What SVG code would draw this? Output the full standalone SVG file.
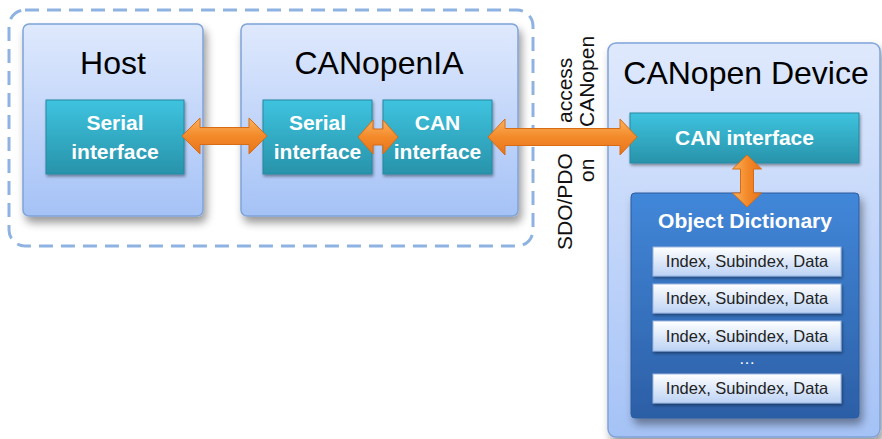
<svg xmlns="http://www.w3.org/2000/svg" width="882" height="439" viewBox="0 0 882 439">
<defs>
<linearGradient id="gBox" x1="0" y1="0" x2="0" y2="1"><stop offset="0" stop-color="#dfe9fd"/><stop offset="1" stop-color="#a5c2f6"/></linearGradient>
<linearGradient id="gTeal" x1="0" y1="0" x2="0" y2="1"><stop offset="0" stop-color="#3ec3df"/><stop offset="1" stop-color="#2893aa"/></linearGradient>
<linearGradient id="gOD" x1="0" y1="0" x2="0" y2="1"><stop offset="0" stop-color="#4287d9"/><stop offset="1" stop-color="#2c5fa6"/></linearGradient>
<linearGradient id="gRow" x1="0" y1="0" x2="0" y2="1"><stop offset="0" stop-color="#ffffff"/><stop offset="1" stop-color="#bcd2f4"/></linearGradient>
<linearGradient id="gArrH" x1="0" y1="0" x2="0" y2="1"><stop offset="0" stop-color="#fcb25e"/><stop offset="0.5" stop-color="#f38a2a"/><stop offset="1" stop-color="#e8731a"/></linearGradient>
<linearGradient id="gArrV" x1="0" y1="0" x2="1" y2="0"><stop offset="0" stop-color="#fcb25e"/><stop offset="0.5" stop-color="#f38a2a"/><stop offset="1" stop-color="#e8731a"/></linearGradient>
<filter id="sh" x="-10%" y="-10%" width="130%" height="130%"><feDropShadow dx="3" dy="6" stdDeviation="4" flood-color="#000" flood-opacity="0.4"/></filter>
<filter id="shs" x="-10%" y="-10%" width="130%" height="140%"><feDropShadow dx="1" dy="2" stdDeviation="1.5" flood-color="#000" flood-opacity="0.4"/></filter>
</defs>
<style>
.box{fill:url(#gBox);stroke:#7fa3d8;stroke-width:1.5;filter:url(#sh)}
.teal{fill:url(#gTeal);stroke:#2688a2;stroke-width:1;filter:url(#shs)}
.od{fill:url(#gOD);stroke:#2a5a9c;stroke-width:1;filter:url(#sh)}
.row{fill:url(#gRow);stroke:#9cb6e0;stroke-width:1;filter:url(#shs)}
.title{font-family:"Liberation Sans",Arial,sans-serif;font-size:32px;fill:#000;text-anchor:middle}
.wt{font-family:"Liberation Sans",Arial,sans-serif;font-size:21px;font-weight:bold;fill:#fff;text-anchor:middle}
.rt{font-family:"Liberation Sans",Arial,sans-serif;font-size:16.5px;fill:#222;text-anchor:middle}
.lbl{font-family:"Liberation Sans",Arial,sans-serif;font-size:21px;fill:#111}
.arrH{fill:url(#gArrH);stroke:#d86c14;stroke-width:1}
.arrV{fill:url(#gArrV);stroke:#d86c14;stroke-width:1}
</style>
<rect x="9" y="10" width="524" height="236" rx="16" fill="none" stroke="#8eb3e3" stroke-width="3" stroke-dasharray="14 8"/>

<g id="host">
<rect class="box" x="23" y="24" width="180" height="192" rx="6"/>
<text class="title" x="113" y="74">Host</text>
</g>
<g id="host-serial">
<rect class="teal" x="46" y="100" width="138" height="74"/>
<text class="wt" x="115" y="130">Serial</text>
<text class="wt" x="115" y="159">interface</text>
</g>

<g id="canopenia">
<rect class="box" x="241" y="24" width="277" height="192" rx="6"/>
<text class="title" x="379" y="74">CANopenIA</text>
</g>
<g id="ia-serial">
<rect class="teal" x="263" y="100" width="109" height="74"/>
<text class="wt" x="317.5" y="130">Serial</text>
<text class="wt" x="317.5" y="159">interface</text>
</g>
<g id="ia-can">
<rect class="teal" x="383" y="100" width="109" height="74"/>
<text class="wt" x="437.5" y="130">CAN</text>
<text class="wt" x="437.5" y="159">interface</text>
</g>

<g id="device">
<rect class="box" x="608" y="43" width="272" height="394" rx="8"/>
<text class="title" x="746" y="84">CANopen Device</text>
</g>
<g id="device-can">
<rect class="teal" x="630" y="113" width="229" height="50"/>
<text class="wt" x="744.5" y="145">CAN interface</text>
</g>
<g id="od">
<rect class="od" x="631" y="193" width="228" height="225" rx="4"/>
<text class="wt" x="745" y="228">Object Dictionary</text>
<rect class="row" x="653" y="247" width="188" height="29"/>
<text class="rt" x="747" y="267">Index, Subindex, Data</text>
<rect class="row" x="653" y="284" width="188" height="29"/>
<text class="rt" x="747" y="304">Index, Subindex, Data</text>
<rect class="row" x="653" y="321" width="188" height="30"/>
<text class="rt" x="747" y="342">Index, Subindex, Data</text>
<text class="rt" x="747" y="364" style="fill:#fff">…</text>
<rect class="row" x="653" y="374" width="188" height="29"/>
<text class="rt" x="747" y="394">Index, Subindex, Data</text>
</g>

<g id="connectors">
<path class="arrH" d="M182,136 L200,118 L200,127.5 L249,127.5 L249,118 L267,136 L249,154 L249,144.5 L200,144.5 L200,154 Z"/>
<path class="arrH" d="M358,137 L373,120 L373,129 L383,129 L383,120 L398,137 L383,154 L383,145 L373,145 L373,154 Z"/>
<path class="arrH" d="M488,137 L505,119 L505,128.5 L620,128.5 L620,119 L637,137 L620,155 L620,145.5 L505,145.5 L505,155 Z"/>
<path class="arrV" d="M747,155 L761.5,169 L753.5,169 L753.5,193 L761.5,193 L747,207 L732.5,193 L740.5,193 L740.5,169 L732.5,169 Z"/>
</g>

<g id="label">
<text class="lbl" transform="translate(572,0) rotate(-90)"><tspan x="-250">SDO/PDO</tspan><tspan x="-123">access</tspan></text>
<text class="lbl" transform="translate(594,0) rotate(-90)"><tspan x="-182">on</tspan><tspan x="-127">CANopen</tspan></text>
</g>
</svg>
